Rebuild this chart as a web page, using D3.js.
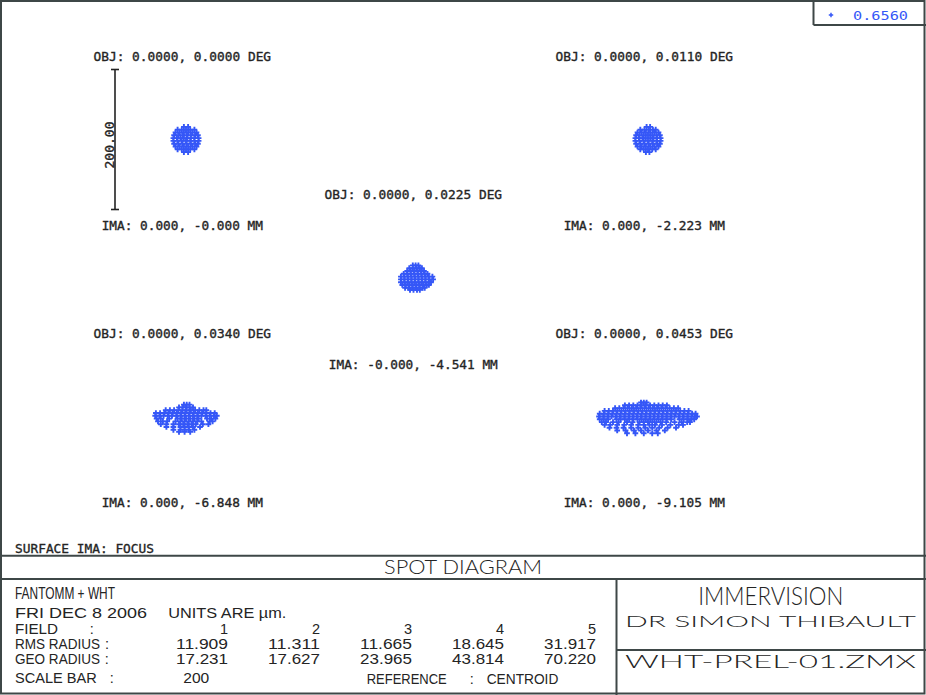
<!DOCTYPE html>
<html>
<head>
<meta charset="utf-8">
<script src="https://cdn.jsdelivr.net/npm/d3@7"></script>
<style>
body{margin:0;background:#fff;}
svg{display:block;}
text{fill:#242424;}
</style>
</head>
<body>
<script>
// field data
var fieldNo = [1, 2, 3, 4, 5];
var objX = ["0.0000", "0.0000", "0.0000", "0.0000", "0.0000"];
var objY = ["0.0000", "0.0110", "0.0225", "0.0340", "0.0453"];
var imaX = ["0.000", "0.000", "-0.000", "0.000", "0.000"];
var imaY = ["-0.000", "-2.223", "-4.541", "-6.848", "-9.105"];
var rmsRadius = [11.909, 11.311, 11.665, 18.645, 31.917];
var geoRadius = [17.231, 17.627, 23.965, 43.814, 70.220];
var wavelengths = [0.6560];
var scaleBar = 200;

// ray intercepts in um, relative to centroid: [y, [x, x, ...]]
var spot1 = [
  [18, [-3, 3]],
  [14, [-12, -6, 0, 6, 12]],
  [10, [-15, -9, -3, 3, 9, 15]],
  [6, [-17, -11, -5, 1, 7, 13, 17]],
  [2, [-18, -13, -8, -3, 2, 7, 12, 18]],
  [-2, [-18, -12, -6, 0, 6, 12, 18]],
  [-6, [-17, -11, -5, 1, 7, 13, 17]],
  [-10, [-15, -9, -3, 3, 9, 15]],
  [-14, [-12, -6, 0, 6, 12]],
  [-18, [-3, 3]]
];
var spot2 = [
  [18, [-2, 3]],
  [14, [-11, -5, 1, 7, 11]],
  [10, [-15, -9, -3, 3, 9, 15]],
  [6, [-17, -12, -6, 0, 6, 12, 17]],
  [2, [-18, -13, -8, -3, 3, 8, 13, 18]],
  [-2, [-18, -12, -6, 0, 6, 12, 18]],
  [-6, [-17, -11, -5, 1, 7, 13, 17]],
  [-10, [-15, -9, -3, 3, 9, 15]],
  [-14, [-11, -6, 0, 6, 11]],
  [-18, [-3, 2]]
];
var spot3 = [
  [18, [-6, -2, 2]],
  [14, [-11, -6, -1, 4, 7]],
  [10, [-14, -9, -4, 1, 6, 10]],
  [6, [-19, -14, -9, -4, 1, 6, 11, 15]],
  [2, [-23, -18, -13, -8, -3, 2, 7, 12, 17, 22]],
  [-2, [-23, -18, -13, -8, -3, 2, 7, 12, 17, 23]],
  [-6, [-23, -18, -13, -8, -3, 2, 7, 12, 17, 20]],
  [-10, [-21, -16, -11, -6, -1, 4, 9, 14, 17]],
  [-14, [-17, -12, -7, -2, 3, 8, 11]],
  [-17, [-10, -5, 0, 4]]
];
var spot4 = [
  [17, [-3, 1, 5]],
  [13, [-10, -5, 0, 5, 10]],
  [9, [-29, -23, -17, -11, -5, 1, 7, 13, 19, 25, 29]],
  [5, [-43, -37, -31, -25, -19, -13, -7, -1, 5, 11, 17, 23, 29, 35, 41]],
  [1, [-44, -38, -32, -26, -20, -14, -8, -2, 4, 10, 16, 22, 28, 34, 40, 44]],
  [-3, [-42, -36, -24, -12, -6, 0, 6, 12, 18, 30, 36, 42]],
  [-7, [-40, -33, -27, -15, -8, -2, 4, 10, 16, 22, 34, 38]],
  [-11, [-36, -28, -18, -10, -4, 2, 8, 14, 24, 32]],
  [-15, [-28, -18, -8, -2, 4, 10, 20]],
  [-19, [-18, -8, -2, 4, 12]],
  [-22, [-10, -2, 6]]
];
var spot5 = [
  [20, [-10, -6, -2]],
  [16, [-33, -27, -21, -15, -9, -3, 3, 9, 15, 21, 27]],
  [12, [-47, -41, -35, -29, -23, -17, -11, -5, 1, 7, 13, 19, 25, 31, 37, 43]],
  [8, [-62, -56, -50, -44, -38, -32, -26, -20, -14, -8, -2, 4, 10, 16, 22, 28, 34, 40, 46, 52, 58]],
  [4, [-69, -63, -57, -51, -45, -39, -33, -27, -21, -15, -9, -3, 3, 9, 15, 21, 27, 33, 39, 45, 51, 57, 63, 68]],
  [0, [-70, -64, -58, -52, -46, -40, -34, -28, -22, -16, -10, -4, 2, 8, 14, 20, 26, 32, 38, 44, 50, 56, 62, 67, 70]],
  [-4, [-69, -63, -57, -45, -39, -33, -27, -21, -15, -9, -3, 3, 9, 15, 21, 27, 33, 45, 51, 57, 62, 66]],
  [-8, [-66, -60, -50, -42, -30, -22, -12, -6, 0, 6, 12, 18, 26, 38, 48, 56, 60]],
  [-12, [-62, -54, -44, -34, -24, -14, -6, 2, 10, 20, 32, 44, 50]],
  [-16, [-55, -45, -35, -24, -14, -4, 6, 16, 28, 40]],
  [-20, [-44, -32, -20, -10, 0, 12, 24]],
  [-24, [-30, -18, -6, 6, 14]]
];
var spots = [spot1, spot2, spot3, spot4, spot5];

var W = 926, H = 695;
var blue = "#3557f7";
var lineColor = "#3e4747";
var mono = "'DejaVu Sans Mono', monospace";
var sans = "'Liberation Sans', 'DejaVu Sans', sans-serif";
var thin = "Lato, 'DejaVu Sans', sans-serif";

// where each field box sits (column, row)
var cellCol = [0, 2, 1, 0, 2];
var cellRow = [0, 0, 1, 2, 2];
var colX = d3.scaleLinear().domain([0, 2]).range([186, 648]);
var rowY = d3.scaleLinear().domain([0, 2]).range([139.5, 416.5]);
var half = 70; // px for 100 um

var svg = d3.select("body").append("svg")
            .attr("width", W)
            .attr("height", H);

function txt(x, y, s, len, size, family, anchor, weight){
  var t = svg.append("text")
             .attr("x", x)
             .attr("y", y)
             .attr("font-size", size)
             .attr("font-family", family)
             .text(s);
  if(len) t.attr("textLength", len).attr("lengthAdjust", "spacingAndGlyphs");
  if(anchor) t.attr("text-anchor", anchor);
  if(weight) t.attr("font-weight", weight);
  return t;
}

var cross = d3.symbol().type(d3.symbolCross).size(18);

// spots + labels
spots.forEach(function(rows, i){
  var cx = colX(cellCol[i]), cy = rowY(cellRow[i]);
  var x = d3.scaleLinear().domain([-100, 100]).range([cx - half, cx + half]);
  var y = d3.scaleLinear().domain([-100, 100]).range([cy + half, cy - half]);
  var pts = [];
  rows.forEach(function(r){
    r[1].forEach(function(v){ pts.push([v, r[0]]); });
  });
  svg.append("g")
     .selectAll("path")
     .data(pts)
     .enter()
     .append("path")
     .attr("d", cross)
     .attr("transform", function(d){
       return "translate(" + x(d[0]) + "," + y(d[1]) + ")";
     })
     .attr("fill", blue);

  var o = "OBJ: " + objX[i] + ", " + objY[i] + " DEG";
  var m = "IMA: " + imaX[i] + ", " + imaY[i] + " MM";
  txt(cx - 3.7, cy - 78.8, o, o.length * 7.72, 13, mono, "middle")
    .attr("stroke", "#242424").attr("stroke-width", 0.35);
  txt(cx - 3.7, cy + 90.5, m, m.length * 7.68, 13, mono, "middle")
    .attr("stroke", "#242424").attr("stroke-width", 0.35);

  if(i == 0){
    // scale bar on left edge of first box
    var bx = x(-100) - 1;
    var g = svg.append("g").attr("stroke", "#222").attr("stroke-width", 1.6);
    g.append("line").attr("x1", bx).attr("x2", bx)
     .attr("y1", y(scaleBar / 2)).attr("y2", y(-scaleBar / 2));
    g.append("line").attr("x1", bx - 4).attr("x2", bx + 4)
     .attr("y1", y(scaleBar / 2)).attr("y2", y(scaleBar / 2));
    g.append("line").attr("x1", bx - 4).attr("x2", bx + 4)
     .attr("y1", y(-scaleBar / 2)).attr("y2", y(-scaleBar / 2));
    svg.append("text")
       .attr("transform", "translate(" + (bx - 1.5) + "," + (cy + 5.5) + ") rotate(-90)")
       .attr("text-anchor", "middle")
       .attr("font-size", 11.5)
       .attr("font-family", mono)
       .attr("textLength", 47)
       .attr("lengthAdjust", "spacingAndGlyphs")
       .attr("stroke", "#242424").attr("stroke-width", 0.35)
       .text(d3.format(".2f")(scaleBar));
  }
});

// frame
var fr = svg.append("g").attr("stroke", lineColor).attr("stroke-width", 2).attr("fill", "none");
fr.append("rect").attr("x", 1).attr("y", 1).attr("width", 923.5).attr("height", 692.5);
fr.append("line").attr("x1", 0).attr("x2", W).attr("y1", 555.7).attr("y2", 555.7);
fr.append("line").attr("x1", 0).attr("x2", W).attr("y1", 579).attr("y2", 579);
fr.append("line").attr("x1", 616.5).attr("x2", 616.5).attr("y1", 579).attr("y2", H);
fr.append("line").attr("x1", 616.5).attr("x2", W).attr("y1", 650).attr("y2", 650);
fr.append("line").attr("x1", 813.5).attr("x2", 813.5).attr("y1", 0).attr("y2", 25);
fr.append("line").attr("x1", 813.5).attr("x2", W).attr("y1", 25).attr("y2", 25);

// wavelength legend
wavelengths.forEach(function(w, i){
  svg.append("path")
     .attr("d", d3.symbol().type(d3.symbolCross).size(11)())
     .attr("transform", "translate(831," + (15 + i * 20) + ")")
     .attr("fill", blue);
  txt(853, 19.5 + i * 20, d3.format(".4f")(w), 55, 13, mono)
    .style("fill", blue);
});

// titles
txt(15, 552.7, "SURFACE IMA: FOCUS", 139, 12, mono)
  .attr("stroke", "#242424").attr("stroke-width", 0.3);
txt(384, 574, "SPOT DIAGRAM", 158, 19.5, thin, null, 300);
txt(698.3, 605, "IMMERVISION", 145, 25, thin, null, 300);
txt(625, 626.7, "DR SIMON THIBAULT", 291, 16, thin, null, 300);
txt(625, 668.3, "WHT-PREL-01.ZMX", 291, 17, thin, null, 300);

// table
var fs = 14.5;
txt(15, 599.3, "FANTOMM + WHT", 100, 16, sans);
txt(15, 617.8, "FRI DEC 8 2006", 132, fs, sans);
txt(168.3, 617.8, "UNITS ARE \u00b5m.", 118, fs, sans);

var colRight = d3.scaleLinear().domain([1, 5]).range([228, 596]);
var rowBase = {field: 633.5, rms: 648.6, geo: 664, bar: 683.3};

txt(15, rowBase.field, "FIELD", 43, fs, sans);
txt(91.7, rowBase.field, ":", null, fs, sans, "middle");
txt(15, rowBase.rms, "RMS RADIUS", 85, fs, sans);
txt(107, rowBase.rms, ":", null, fs, sans, "middle");
txt(15, rowBase.geo, "GEO RADIUS", 85, fs, sans);
txt(106.7, rowBase.geo, ":", null, fs, sans, "middle");
txt(15, rowBase.bar, "SCALE BAR", 81.7, fs, sans);
txt(111.7, rowBase.bar, ":", null, fs, sans, "middle");
txt(183.3, rowBase.bar, String(scaleBar), 26, fs, sans);
txt(366.7, rowBase.bar + 0.7, "REFERENCE", 80, fs, sans);
txt(471.7, rowBase.bar + 0.7, ":", null, fs, sans, "middle");
txt(486.7, rowBase.bar + 0.7, "CENTROID", 71.6, fs, sans);

var f3 = d3.format(".3f");
fieldNo.forEach(function(f, i){
  txt(colRight(f), rowBase.field, String(f), null, fs, sans, "end");
  txt(colRight(f), rowBase.rms, f3(rmsRadius[i]), 52, fs, sans, "end");
  txt(colRight(f), rowBase.geo, f3(geoRadius[i]), 52, fs, sans, "end");
});
</script>
</body>
</html>
